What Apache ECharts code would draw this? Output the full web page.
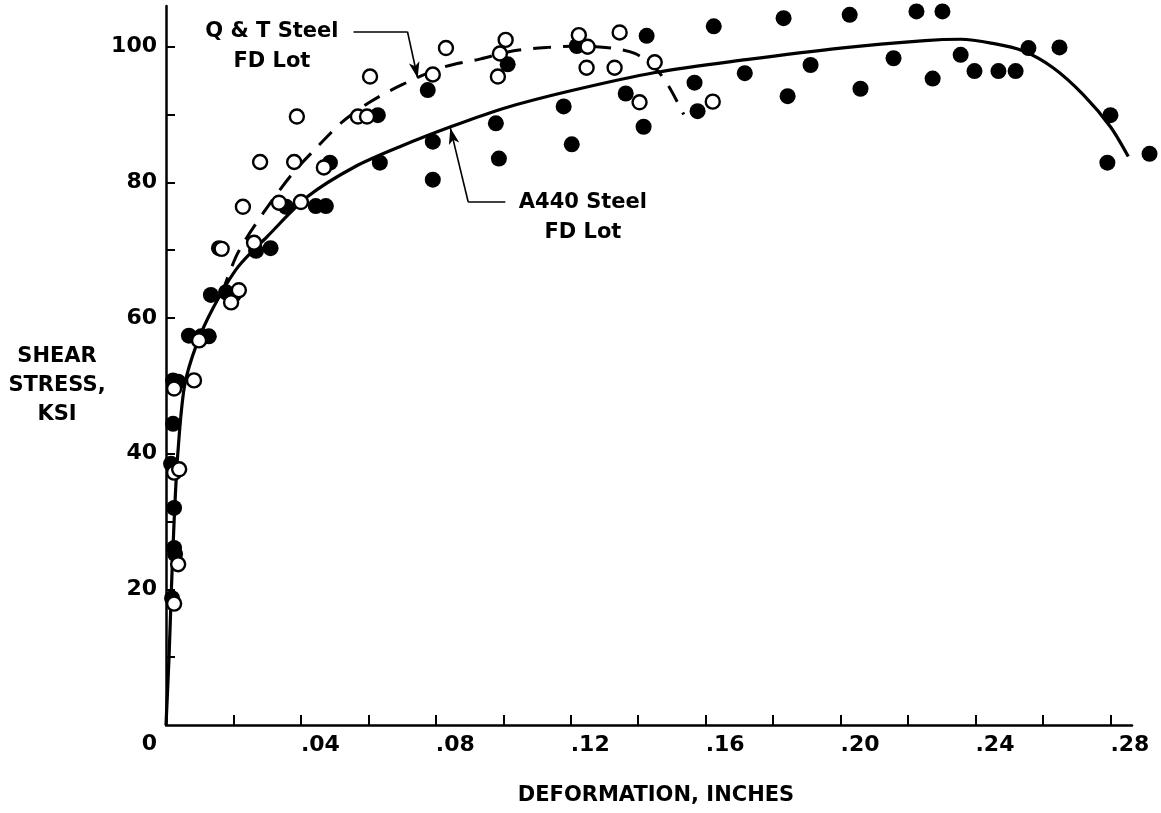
<!DOCTYPE html>
<html>
<head>
<meta charset="utf-8">
<title>Shear stress vs deformation</title>
<script src="https://cdn.jsdelivr.net/npm/echarts@6/dist/echarts.min.js"></script>
<style>
  html, body { margin: 0; padding: 0; background: #fff; }
  #main { width: 1161px; height: 813px; }
</style>
</head>
<body>
<div id="main"></div>
<script>
// A440 Steel, FD Lot - filled circles [deformation in, shear stress ksi]
const a440Points = [
  [0.0018, 18.7], [0.0024, 26.1], [0.0027, 25.2], [0.0024, 32.0], [0.0015, 38.5],
  [0.0021, 44.4], [0.0021, 50.8], [0.0036, 50.6], [0.0068, 57.4], [0.0104, 57.3],
  [0.0127, 57.3], [0.0133, 63.4], [0.0178, 63.8], [0.0201, 63.4], [0.0157, 70.3],
  [0.0267, 69.9], [0.0310, 70.3], [0.0356, 76.4], [0.0444, 76.5], [0.0474, 76.5],
  [0.0486, 82.9], [0.0634, 82.9], [0.0628, 89.9], [0.0776, 93.6], [0.0791, 86.0],
  [0.0791, 80.4], [0.0978, 88.7], [0.0987, 83.5], [0.1013, 97.4], [0.1179, 91.2],
  [0.1203, 85.6], [0.1218, 100.1], [0.1363, 93.1], [0.1416, 88.2], [0.1425, 101.6],
  [0.1567, 94.7], [0.1576, 90.5], [0.1624, 103.0], [0.1716, 96.1], [0.1831, 104.2],
  [0.1843, 92.7], [0.1911, 97.3], [0.2027, 104.7], [0.2059, 93.8], [0.2157, 98.3],
  [0.2225, 105.2], [0.2273, 95.3], [0.2302, 105.2], [0.2356, 98.8], [0.2397, 96.4],
  [0.2468, 96.4], [0.2519, 96.4], [0.2557, 99.8], [0.2649, 99.9], [0.2791, 82.9],
  [0.2800, 89.9], [0.2916, 84.2]
]

// Q & T Steel, FD Lot - open circles
const qtPoints = [
  [0.0024, 17.9], [0.0036, 23.7], [0.0024, 37.2], [0.0039, 37.7], [0.0024, 49.6],
  [0.0083, 50.8], [0.0098, 56.7], [0.0193, 62.3], [0.0216, 64.1], [0.0165, 70.2],
  [0.0261, 71.1], [0.0228, 76.4], [0.0335, 77.0], [0.0400, 77.1], [0.0279, 83.0],
  [0.0380, 83.0], [0.0468, 82.2], [0.0388, 89.7], [0.0569, 89.7], [0.0596, 89.7],
  [0.0605, 95.6], [0.0791, 95.9], [0.0830, 99.8], [0.0984, 95.6], [0.0990, 99.0],
  [0.1007, 101.0], [0.1224, 101.7], [0.1250, 100.0], [0.1247, 96.9], [0.1330, 96.9],
  [0.1345, 102.1], [0.1404, 91.8], [0.1449, 97.7], [0.1621, 91.9]
]

// faired curves
const a440Curve = [
  [0, 0], [0.0009, 10], [0.0016, 20], [0.0024, 30], [0.0035, 40], [0.0055, 50],
  [0.0090, 56], [0.0140, 61.5], [0.0213, 67.5], [0.0300, 72], [0.0420, 77.9],
  [0.0560, 82.3], [0.0700, 85.4], [0.0850, 88.3], [0.1000, 90.9], [0.1200, 93.5],
  [0.1450, 96.2], [0.1720, 98.1], [0.2000, 99.8], [0.2250, 100.9], [0.2356, 101.1],
  [0.2450, 100.5], [0.2540, 99.4], [0.2630, 96.9], [0.2720, 92.9], [0.2800, 88.2],
  [0.2853, 83.8]
]
const qtCurve = [
  [0.0165, 63.5], [0.0213, 69.6], [0.0290, 75.6], [0.0375, 81.3], [0.0452, 85.4],
  [0.0520, 88.8], [0.0600, 91.7], [0.0700, 94.4], [0.0824, 97.0], [0.0933, 98.2],
  [0.1031, 99.4], [0.1132, 99.9], [0.1230, 100.1], [0.1320, 99.8], [0.1390, 99.0],
  [0.1446, 97.1], [0.1490, 94.2], [0.1535, 90.0]
]

// ticks and labels
const xTickValues = [0.02, 0.04, 0.06, 0.08, 0.10, 0.12, 0.14, 0.16, 0.18, 0.20, 0.22, 0.24, 0.26, 0.28]
const xLabelValues = [0.04, 0.08, 0.12, 0.16, 0.20, 0.24, 0.28]
const yTickValues = [10, 20, 30, 40, 50, 60, 70, 80, 90, 100]
const yLabelValues = [20, 40, 60, 80, 100]

// leader lines for the two curve labels: start, corner, arrow tip
const qtLeader = [[0.0556, 102.2], [0.0716, 102.2], [0.0746, 95.4]]
const a440Leader = [[0.1006, 77.1], [0.0896, 77.1], [0.0843, 88.0]]
const qtLabelAt = [0.0314, 100.0]
const a440LabelAt = [0.1236, 74.8]
const yNameAt = [0, 50]

const FONT = 'DejaVu Sans'

function leaderData(pts) {
  return [
    [{ coord: pts[0], symbol: 'none' }, { coord: pts[1], symbol: 'none' }],
    [{ coord: pts[1], symbol: 'none' }, { coord: pts[2], symbol: 'arrow', symbolSize: [8, 16] }]
  ]
}

const chart = echarts.init(document.getElementById('main'), null, { renderer: 'canvas' })

let option = {
  animation: false,
  backgroundColor: '#fff',
  grid: { left: 166, right: 29, top: 6, bottom: 88 },
  xAxis: {
    type: 'value',
    min: 0,
    max: 0.2864,
    name: 'DEFORMATION, INCHES',
    nameLocation: 'middle',
    nameGap: 71,
    nameTextStyle: {
      fontFamily: FONT, fontSize: 21, fontWeight: 'bold', color: '#000',
      align: 'center', verticalAlign: 'middle', padding: [0, 0, 0, 14]
    },
    splitLine: { show: false },
    axisLine: { lineStyle: { color: '#000', width: 2.5 } },
    axisTick: {
      customValues: xTickValues,
      inside: true,
      length: 10,
      lineStyle: { color: '#000', width: 2 }
    },
    axisLabel: {
      customValues: xLabelValues,
      align: 'left',
      margin: 9,
      fontFamily: FONT,
      fontSize: 22,
      fontWeight: 'bold',
      color: '#000',
      formatter: v => v.toFixed(2).slice(1)
    }
  },
  yAxis: {
    type: 'value',
    min: 0,
    max: 106,
    splitLine: { show: false },
    axisLine: { lineStyle: { color: '#000', width: 2.5 } },
    axisTick: {
      customValues: yTickValues,
      inside: true,
      length: 9,
      lineStyle: { color: '#000', width: 2 }
    },
    axisLabel: {
      customValues: yLabelValues,
      margin: 9,
      fontFamily: FONT,
      fontSize: 22,
      fontWeight: 'bold',
      color: '#000'
    }
  },
  series: [
    {
      name: 'A440 Steel FD Lot curve',
      type: 'line',
      data: a440Curve,
      showSymbol: false,
      smooth: 0.3,
      clip: false,
      z: 2,
      lineStyle: { color: '#000', width: 3.2 },
      markLine: {
        silent: true,
        symbol: ['none', 'none'],
        label: { show: false },
        lineStyle: { color: '#000', width: 1.6, type: 'solid' },
        data: leaderData(qtLeader).concat(leaderData(a440Leader))
      }
    },
    {
      name: 'Q & T Steel FD Lot curve',
      type: 'line',
      data: qtCurve,
      showSymbol: false,
      smooth: 0.3,
      clip: false,
      z: 2,
      lineStyle: { color: '#000', width: 3, type: [18, 12] }
    },
    {
      name: 'A440 Steel FD Lot',
      type: 'scatter',
      data: a440Points,
      symbol: 'circle',
      symbolSize: 16,
      clip: false,
      z: 3,
      itemStyle: { color: '#000', opacity: 1 }
    },
    {
      name: 'Q & T Steel FD Lot',
      type: 'scatter',
      data: qtPoints,
      symbol: 'circle',
      symbolSize: 14,
      clip: false,
      z: 4,
      itemStyle: { color: '#fff', borderColor: '#000', borderWidth: 2.4, opacity: 1 }
    }
  ]
}

chart.setOption(option)

// labels placed from data positions
const toPx = p => chart.convertToPixel({ gridIndex: 0 }, p)
const qtPx = toPx(qtLabelAt)
const a440Px = toPx(a440LabelAt)
const zeroPx = toPx([0, 0])
const yNamePx = toPx(yNameAt)

const textStyle = (text, align, size, lh) => ({
  text: text,
  fontFamily: FONT,
  fontSize: size,
  fontWeight: 'bold',
  lineHeight: lh,
  fill: '#000',
  align: align,
  verticalAlign: 'middle'
})

chart.setOption({
  graphic: [
    { type: 'text', x: qtPx[0], y: qtPx[1], style: textStyle('Q & T Steel\nFD Lot', 'center', 21, 30) },
    { type: 'text', x: a440Px[0], y: a440Px[1], style: textStyle('A440 Steel\nFD Lot', 'center', 21, 30) },
    // y axis title, three lines left of the axis
    { type: 'text', x: yNamePx[0] - 109, y: yNamePx[1], style: textStyle('SHEAR\nSTRESS,\nKSI', 'center', 21, 29) },
    // origin label sits left of the y axis
    { type: 'text', x: zeroPx[0] - 9, y: zeroPx[1] + 19, style: textStyle('0', 'right', 22, 24) }
  ]
})
</script>
</body>
</html>
